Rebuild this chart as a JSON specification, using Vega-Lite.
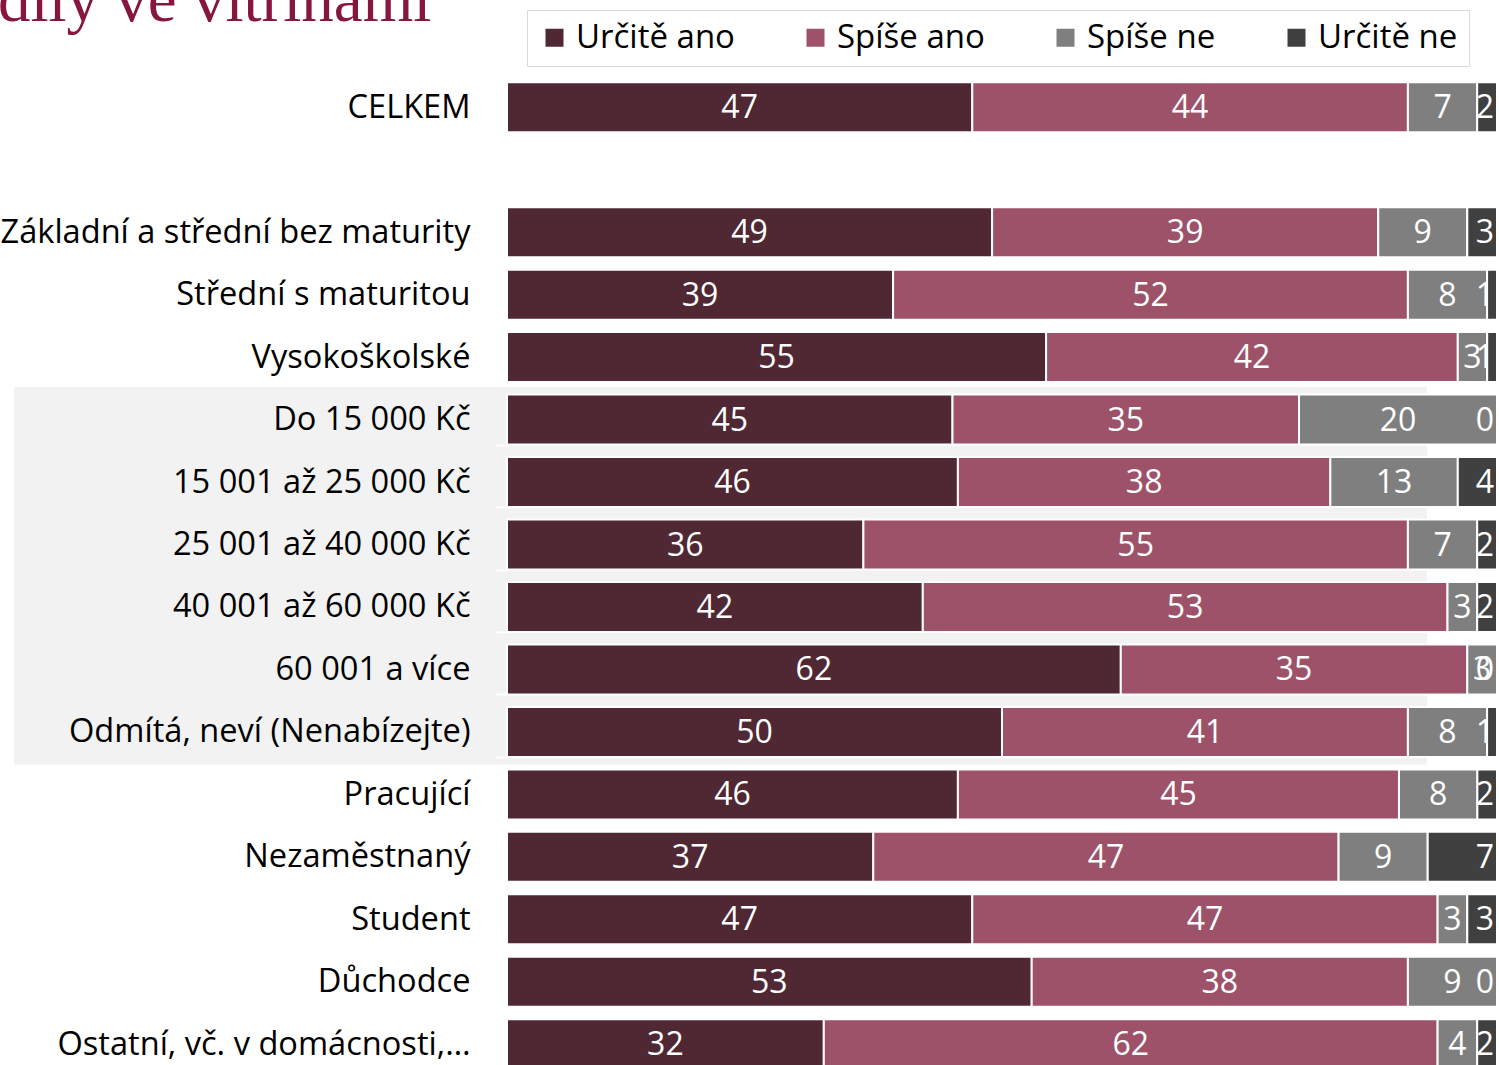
{
  "$schema": "https://vega.github.io/schema/vega-lite/v6.json",
  "width": 990,
  "height": 999.5,
  "autosize": {"type": "none"},
  "padding": {"left": 507, "top": 76, "right": 0, "bottom": 0},
  "background": "white",
  "config": {"view": {"stroke": null}, "font": "Open Sans"},
  "title": {
    "text": "dily ve vitrínami",
    "font": "Liberation Serif",
    "fontSize": 65,
    "fontWeight": "normal",
    "color": "#861640",
    "anchor": "start",
    "frame": "group",
    "baseline": "alphabetic",
    "offset": 0,
    "dx": -509,
    "dy": 76
  },
  "datasets": {
    "bars": [
      {"cat": "CELKEM", "resp": "Určitě ano", "o": 1, "value": 47},
      {"cat": "CELKEM", "resp": "Spíše ano", "o": 2, "value": 44},
      {"cat": "CELKEM", "resp": "Spíše ne", "o": 3, "value": 7},
      {"cat": "CELKEM", "resp": "Určitě ne", "o": 4, "value": 2},
      {"cat": "Základní a střední bez maturity", "resp": "Určitě ano", "o": 1, "value": 49},
      {"cat": "Základní a střední bez maturity", "resp": "Spíše ano", "o": 2, "value": 39},
      {"cat": "Základní a střední bez maturity", "resp": "Spíše ne", "o": 3, "value": 9},
      {"cat": "Základní a střední bez maturity", "resp": "Určitě ne", "o": 4, "value": 3},
      {"cat": "Střední s maturitou", "resp": "Určitě ano", "o": 1, "value": 39},
      {"cat": "Střední s maturitou", "resp": "Spíše ano", "o": 2, "value": 52},
      {"cat": "Střední s maturitou", "resp": "Spíše ne", "o": 3, "value": 8},
      {"cat": "Střední s maturitou", "resp": "Určitě ne", "o": 4, "value": 1},
      {"cat": "Vysokoškolské", "resp": "Určitě ano", "o": 1, "value": 55},
      {"cat": "Vysokoškolské", "resp": "Spíše ano", "o": 2, "value": 42},
      {"cat": "Vysokoškolské", "resp": "Spíše ne", "o": 3, "value": 3},
      {"cat": "Vysokoškolské", "resp": "Určitě ne", "o": 4, "value": 1},
      {"cat": "Do 15 000 Kč", "resp": "Určitě ano", "o": 1, "value": 45},
      {"cat": "Do 15 000 Kč", "resp": "Spíše ano", "o": 2, "value": 35},
      {"cat": "Do 15 000 Kč", "resp": "Spíše ne", "o": 3, "value": 20},
      {"cat": "Do 15 000 Kč", "resp": "Určitě ne", "o": 4, "value": 0},
      {"cat": "15 001 až 25 000 Kč", "resp": "Určitě ano", "o": 1, "value": 46},
      {"cat": "15 001 až 25 000 Kč", "resp": "Spíše ano", "o": 2, "value": 38},
      {"cat": "15 001 až 25 000 Kč", "resp": "Spíše ne", "o": 3, "value": 13},
      {"cat": "15 001 až 25 000 Kč", "resp": "Určitě ne", "o": 4, "value": 4},
      {"cat": "25 001 až 40 000 Kč", "resp": "Určitě ano", "o": 1, "value": 36},
      {"cat": "25 001 až 40 000 Kč", "resp": "Spíše ano", "o": 2, "value": 55},
      {"cat": "25 001 až 40 000 Kč", "resp": "Spíše ne", "o": 3, "value": 7},
      {"cat": "25 001 až 40 000 Kč", "resp": "Určitě ne", "o": 4, "value": 2},
      {"cat": "40 001 až 60 000 Kč", "resp": "Určitě ano", "o": 1, "value": 42},
      {"cat": "40 001 až 60 000 Kč", "resp": "Spíše ano", "o": 2, "value": 53},
      {"cat": "40 001 až 60 000 Kč", "resp": "Spíše ne", "o": 3, "value": 3},
      {"cat": "40 001 až 60 000 Kč", "resp": "Určitě ne", "o": 4, "value": 2},
      {"cat": "60 001 a více", "resp": "Určitě ano", "o": 1, "value": 62},
      {"cat": "60 001 a více", "resp": "Spíše ano", "o": 2, "value": 35},
      {"cat": "60 001 a více", "resp": "Spíše ne", "o": 3, "value": 3},
      {"cat": "60 001 a více", "resp": "Určitě ne", "o": 4, "value": 0},
      {"cat": "Odmítá, neví (Nenabízejte)", "resp": "Určitě ano", "o": 1, "value": 50},
      {"cat": "Odmítá, neví (Nenabízejte)", "resp": "Spíše ano", "o": 2, "value": 41},
      {"cat": "Odmítá, neví (Nenabízejte)", "resp": "Spíše ne", "o": 3, "value": 8},
      {"cat": "Odmítá, neví (Nenabízejte)", "resp": "Určitě ne", "o": 4, "value": 1},
      {"cat": "Pracující", "resp": "Určitě ano", "o": 1, "value": 46},
      {"cat": "Pracující", "resp": "Spíše ano", "o": 2, "value": 45},
      {"cat": "Pracující", "resp": "Spíše ne", "o": 3, "value": 8},
      {"cat": "Pracující", "resp": "Určitě ne", "o": 4, "value": 2},
      {"cat": "Nezaměstnaný", "resp": "Určitě ano", "o": 1, "value": 37},
      {"cat": "Nezaměstnaný", "resp": "Spíše ano", "o": 2, "value": 47},
      {"cat": "Nezaměstnaný", "resp": "Spíše ne", "o": 3, "value": 9},
      {"cat": "Nezaměstnaný", "resp": "Určitě ne", "o": 4, "value": 7},
      {"cat": "Student", "resp": "Určitě ano", "o": 1, "value": 47},
      {"cat": "Student", "resp": "Spíše ano", "o": 2, "value": 47},
      {"cat": "Student", "resp": "Spíše ne", "o": 3, "value": 3},
      {"cat": "Student", "resp": "Určitě ne", "o": 4, "value": 3},
      {"cat": "Důchodce", "resp": "Určitě ano", "o": 1, "value": 53},
      {"cat": "Důchodce", "resp": "Spíše ano", "o": 2, "value": 38},
      {"cat": "Důchodce", "resp": "Spíše ne", "o": 3, "value": 9},
      {"cat": "Důchodce", "resp": "Určitě ne", "o": 4, "value": 0},
      {"cat": "Ostatní, vč. v domácnosti,…", "resp": "Určitě ano", "o": 1, "value": 32},
      {"cat": "Ostatní, vč. v domácnosti,…", "resp": "Spíše ano", "o": 2, "value": 62},
      {"cat": "Ostatní, vč. v domácnosti,…", "resp": "Spíše ne", "o": 3, "value": 4},
      {"cat": "Ostatní, vč. v domácnosti,…", "resp": "Určitě ne", "o": 4, "value": 2}
    ],
    "grey": [
      {"cat": "Do 15 000 Kč"},
      {"cat": "15 001 až 25 000 Kč"},
      {"cat": "25 001 až 40 000 Kč"},
      {"cat": "40 001 až 60 000 Kč"},
      {"cat": "60 001 a více"},
      {"cat": "Odmítá, neví (Nenabízejte)"}
    ]
  },
  "encoding": {
    "y": {
      "field": "cat",
      "type": "nominal",
      "sort": null,
      "scale": {
        "domain": ["CELKEM", " ", "Základní a střední bez maturity", "Střední s maturitou", "Vysokoškolské", "Do 15 000 Kč", "15 001 až 25 000 Kč", "25 001 až 40 000 Kč", "40 001 až 60 000 Kč", "60 001 a více", "Odmítá, neví (Nenabízejte)", "Pracující", "Nezaměstnaný", "Student", "Důchodce", "Ostatní, vč. v domácnosti,…"],
        "paddingInner": 0.2,
        "paddingOuter": 0.1
      },
      "axis": {
        "title": null,
        "domain": false,
        "ticks": true,
        "tickBand": "extent",
        "tickColor": "#ffffff",
        "tickWidth": 2,
        "tickSize": 12,
        "labelPadding": 25,
        "labelFontSize": 32.6,
        "labelFont": "Open Sans",
        "labelColor": "#000000",
        "labelLimit": 700,
        "zindex": 1
      }
    }
  },
  "layer": [
    {
      "data": {"name": "grey"},
      "mark": {"type": "bar", "color": "#f2f2f2", "height": {"band": 1.3}},
      "encoding": {
        "x": {"datum": -0.498, "type": "quantitative", "scale": {"domain": [0, 1]}, "axis": null},
        "x2": {"datum": 0.9293}
      }
    },
    {
      "data": {"name": "bars"},
      "mark": {"type": "bar", "stroke": "#ffffff", "strokeWidth": 2},
      "encoding": {
        "x": {"field": "value", "type": "quantitative", "stack": "normalize", "scale": {"domain": [0, 1]}, "axis": null},
        "color": {
          "field": "resp",
          "type": "nominal",
          "scale": {
            "domain": ["Určitě ano", "Spíše ano", "Spíše ne", "Určitě ne"],
            "range": ["#4f2834", "#9d5269", "#7f7f7f", "#404040"]
          },
          "legend": {
            "title": null,
            "orient": "none",
            "legendX": 20,
            "legendY": -66,
            "direction": "horizontal",
            "strokeColor": "#d9d9d9",
            "fillColor": "#ffffff",
            "padding": 11,
            "symbolType": "square",
            "symbolSize": 324,
            "symbolStrokeWidth": 0,
            "labelFontSize": 33,
            "labelFont": "Open Sans",
            "labelColor": "#000000",
            "labelOffset": 5,
            "columnPadding": 64,
            "zindex": 1
          }
        },
        "order": {"field": "o", "type": "quantitative"}
      }
    },
    {
      "data": {"name": "bars"},
      "mark": {"type": "text", "color": "#ffffff", "fontSize": 32, "font": "Open Sans", "baseline": "middle", "dy": 1},
      "encoding": {
        "x": {"field": "value", "type": "quantitative", "stack": "normalize", "bandPosition": 0.5, "scale": {"domain": [0, 1]}, "axis": null},
        "detail": {"field": "resp", "type": "nominal"},
        "order": {"field": "o", "type": "quantitative"},
        "text": {
          "condition": {"test": "datum.resp === 'Určitě ne'", "value": ""},
          "field": "value",
          "type": "quantitative"
        }
      }
    },
    {
      "data": {"name": "bars"},
      "transform": [{"filter": {"field": "resp", "equal": "Určitě ne"}}],
      "mark": {"type": "text", "color": "#ffffff", "fontSize": 32, "font": "Open Sans", "baseline": "middle", "align": "right", "dy": 1, "dx": -3},
      "encoding": {
        "x": {"datum": 1, "type": "quantitative", "scale": {"domain": [0, 1]}, "axis": null},
        "text": {"field": "value", "type": "quantitative"}
      }
    }
  ]
}
